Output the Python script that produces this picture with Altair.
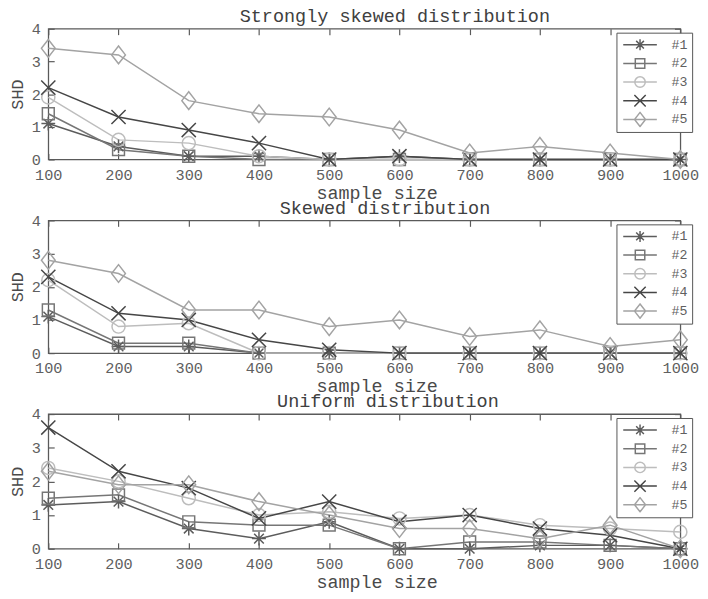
import altair as alt
import pandas as pd

sample_sizes = [100, 200, 300, 400, 500, 600, 700, 800, 900, 1000]
series_names = ["#1", "#2", "#3", "#4", "#5"]
marker_keys = ["m1", "m2", "m3", "m4", "m5"]
panel_titles = ["Strongly skewed distribution", "Skewed distribution", "Uniform distribution"]
y_ticks = [0, 1, 2, 3, 4]

# Strongly skewed distribution
strong_1 = [1.1, 0.4, 0.1, 0.1, 0.0, 0.1, 0.0, 0.0, 0.0, 0.0]
strong_2 = [1.4, 0.3, 0.1, 0.0, 0.0, 0.0, 0.0, 0.0, 0.0, 0.0]
strong_3 = [1.9, 0.6, 0.5, 0.1, 0.0, 0.0, 0.0, 0.0, 0.0, 0.0]
strong_4 = [2.2, 1.3, 0.9, 0.5, 0.0, 0.1, 0.0, 0.0, 0.0, 0.0]
strong_5 = [3.4, 3.2, 1.8, 1.4, 1.3, 0.9, 0.2, 0.4, 0.2, 0.0]

# Skewed distribution
skew_1 = [1.1, 0.2, 0.2, 0.0, 0.0, 0.0, 0.0, 0.0, 0.0, 0.0]
skew_2 = [1.3, 0.3, 0.3, 0.0, 0.0, 0.0, 0.0, 0.0, 0.0, 0.0]
skew_3 = [2.2, 0.8, 0.9, 0.0, 0.0, 0.0, 0.0, 0.0, 0.0, 0.0]
skew_4 = [2.3, 1.2, 1.0, 0.4, 0.1, 0.0, 0.0, 0.0, 0.0, 0.0]
skew_5 = [2.8, 2.4, 1.3, 1.3, 0.8, 1.0, 0.5, 0.7, 0.2, 0.4]

# Uniform distribution
unif_1 = [1.3, 1.4, 0.6, 0.3, 0.8, 0.0, 0.0, 0.1, 0.1, 0.0]
unif_2 = [1.5, 1.6, 0.8, 0.7, 0.7, 0.0, 0.2, 0.2, 0.1, 0.0]
unif_3 = [2.4, 2.0, 1.5, 1.0, 1.1, 0.9, 1.0, 0.7, 0.6, 0.5]
unif_4 = [3.6, 2.3, 1.8, 0.9, 1.4, 0.8, 1.0, 0.6, 0.4, 0.0]
unif_5 = [2.3, 1.9, 1.9, 1.4, 1.0, 0.6, 0.6, 0.3, 0.7, 0.0]

panels = [
    [strong_1, strong_2, strong_3, strong_4, strong_5],
    [skew_1, skew_2, skew_3, skew_4, skew_5],
    [unif_1, unif_2, unif_3, unif_4, unif_5],
]

colors = ["#5c5c5c", "#767676", "#bdbdbd", "#464646", "#a3a3a3"]
FONT = "Liberation Mono"
TEXT = "#606060"
TITLEC = "#4a4a4a"
AXC = "#5a5a5a"


def fmt(v):
    return f"{v:.3f}".rstrip("0").rstrip(".")


def marker_paths(k):
    a = 0.78 * k
    d = 0.7 * a
    aster = (f"M{fmt(-a)},0L{fmt(a)},0M0,{fmt(-a)}L0,{fmt(a)}"
             f"M{fmt(-d)},{fmt(-d)}L{fmt(d)},{fmt(d)}M{fmt(-d)},{fmt(d)}L{fmt(d)},{fmt(-d)}")
    s = 0.67 * k
    square = (f"M{fmt(-s)},{fmt(-s)}L{fmt(s)},{fmt(-s)}L{fmt(s)},{fmt(s)}"
              f"L{fmt(-s)},{fmt(s)}Z")
    r = 0.74 * k
    circle = f"M{fmt(r)},0A{fmt(r)},{fmt(r)} 0 1,1 {fmt(-r)},0A{fmt(r)},{fmt(r)} 0 1,1 {fmt(r)},0Z"
    x = 0.8 * k
    xmark = f"M{fmt(-x)},{fmt(-x)}L{fmt(x)},{fmt(x)}M{fmt(-x)},{fmt(x)}L{fmt(x)},{fmt(-x)}"
    h = 1.0 * k
    w = 0.78 * k
    diamond = f"M0,{fmt(-h)}L{fmt(w)},0L0,{fmt(h)}L{fmt(-w)},0Z"
    return [aster, square, circle, xmark, diamond]


PLOT_SIZE = 324      # 18 px span for unit coordinates
plot_shapes = marker_paths(1.0)
leg_shapes = ["M-1.9,0L1.9,0" + m for m in marker_paths(0.8)]

sig = "'" + leg_shapes[-1] + "'"
for name, p in reversed(list(zip(series_names[:-1], leg_shapes[:-1]))):
    sig = f"datum.value === '{name}' ? '{p}' : (" + sig + ")"


def long_df(values):
    rows = []
    for name, key, vals in zip(series_names, marker_keys, values):
        for n, v in zip(sample_sizes, vals):
            rows.append({"n": n, "shd": v, "alg": name, "mk": key})
    return pd.DataFrame(rows)


xscale = alt.Scale(domain=[100, 1000], nice=False, zero=False)
yscale = alt.Scale(domain=[0, 4], nice=False)
color_scale = alt.Scale(domain=series_names, range=colors)
shape_scale = alt.Scale(domain=marker_keys, range=plot_shapes)

PW = 643
PHS = [133, 135, 137]
TITLE_DX = [31, 21, 24]

tick_style = dict(tickColor=AXC, tickWidth=1.2, tickSize=6, offset=-6,
                  domain=False, grid=False)


def panel(i):
    df = long_df(panels[i])
    base = alt.Chart(df)
    legend = alt.Legend(
        orient="none", legendX=578, legendY=4, title=None,
        padding=4, strokeColor="#555555", fillColor="white",
        labelFont=FONT, labelFontSize=13.5, labelColor=TEXT,
        labelOffset=22, symbolOffset=10, symbolSize=PLOT_SIZE,
        clipHeight=16.5, rowPadding=2,
        symbolType=alt.ExprRef(expr=sig),
        symbolStrokeWidth=1.5, symbolFillColor="transparent",
    )
    lines = base.mark_line(strokeWidth=1.5).encode(
        x=alt.X("n:Q", scale=xscale, axis=alt.Axis(
            values=sample_sizes, format="d", title="sample size",
            labelPadding=8, labelFlush=False, labelFont=FONT,
            labelFontSize=15.5, labelColor=TEXT, labelOverlap=False,
            titlePadding=1, titleX=334, titleFont=FONT, titleFontSize=18.7,
            titleFontWeight="normal", titleColor=TITLEC, **tick_style)),
        y=alt.Y("shd:Q", scale=yscale, axis=alt.Axis(
            values=y_ticks, format="d", title="SHD", labelPadding=8,
            labelFont=FONT, labelFontSize=15.5, labelColor=TEXT,
            labelFlush=False, labelOverlap=False,
            titlePadding=5, titleFont=FONT, titleFontSize=17,
            titleFontWeight="normal", titleColor=TITLEC, **tick_style)),
        color=alt.Color("alg:N", scale=color_scale, legend=legend),
        detail="alg:N",
    )
    points = base.mark_point(filled=False, strokeWidth=1.5, size=PLOT_SIZE, opacity=1).encode(
        x=alt.X("n:Q", scale=xscale, axis=None),
        y=alt.Y("shd:Q", scale=yscale, axis=None),
        color=alt.Color("alg:N", scale=color_scale, legend=None),
        shape=alt.Shape("mk:N", scale=shape_scale, legend=None),
    )
    frame_ticks = base.mark_point(opacity=0).encode(
        x=alt.X("n:Q", scale=xscale, axis=alt.Axis(
            orient="top", values=sample_sizes, labels=False, title=None,
            **tick_style)),
        y=alt.Y("shd:Q", scale=yscale, axis=alt.Axis(
            orient="right", values=y_ticks, labels=False, title=None,
            **tick_style)),
    )
    return alt.layer(lines, points, frame_ticks).resolve_axis(
        x="independent", y="independent"
    ).properties(
        width=PW, height=PHS[i],
        title=alt.TitleParams(panel_titles[i], font=FONT, fontSize=18.8,
                              fontWeight="normal", color="#404040",
                              baseline="alphabetic", frame="group",
                              offset=-19, dx=TITLE_DX[i]),
    )


chart = alt.vconcat(panel(0), panel(1), panel(2), spacing=-5).resolve_scale(
    color="independent", shape="independent"
).resolve_legend(color="independent", shape="independent").properties(
    padding={"left": 0, "top": -7, "right": 0, "bottom": 0}
).configure_view(
    stroke=AXC, strokeWidth=1.3
)

chart.save("out.html", embed_options={"renderer": "svg", "actions": False})
